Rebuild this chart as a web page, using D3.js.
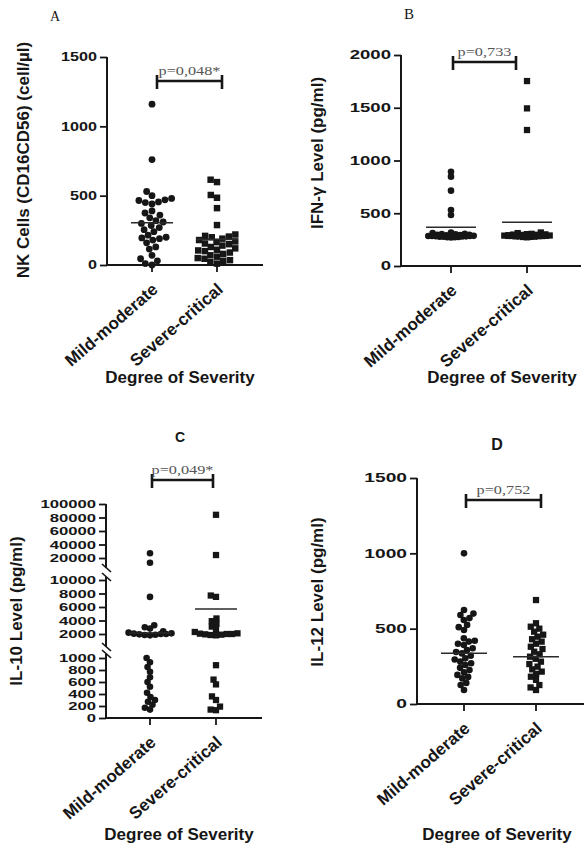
<!DOCTYPE html>
<html>
<head>
<meta charset="utf-8">
<script src="https://cdn.jsdelivr.net/npm/d3@7"></script>
<style>
  body { margin: 0; background: #fff; }
</style>
</head>
<body>
<div id="fig"></div>
<script>
// groups on the x axis of every panel
const groups = ["Mild-moderate", "Severe-critical"];

// A - NK cells (CD16CD56) (cell/µl)
const nkMild = [1160, 760, 530, 500, 480, 470, 465, 455, 450, 440, 390, 375, 360, 340, 320, 310, 300, 285, 270, 255, 240, 215, 200, 195, 190, 180, 160, 130, 115, 70, 45, 30, 10, 0];
const nkSevere = [615, 598, 505, 485, 410, 288, 220, 210, 205, 200, 190, 180, 170, 165, 155, 150, 140, 130, 120, 110, 105, 100, 90, 80, 70, 60, 50, 45, 35, 30, 20, 10];
const nkMeans = [305, 185];
const nkTicks = [0, 500, 1000, 1500];

// B - IFN-γ (pg/ml)
const ifnMild = [894, 847, 714, 531, 483, 318, 312, 306, 302, 300, 298, 296, 295, 293, 292, 290, 289, 288, 286, 285, 285, 284, 283, 281, 280, 278, 277, 275, 273, 272, 270];
const ifnSevere = [1753, 1494, 1289, 318, 312, 305, 302, 300, 298, 296, 295, 293, 292, 290, 289, 288, 286, 285, 285, 284, 283, 281, 280, 278, 276, 275, 272];
const ifnMeans = [367, 414];
const ifnTicks = [0, 500, 1000, 1500, 2000];

// C - IL-10 (pg/ml), broken axis
const il10Mild = [27000, 13000, 7500, 3300, 3000, 2800, 2400, 2200, 2100, 2050, 2000, 2000, 1950, 1900, 1850, 1800, 1000, 930, 850, 770, 680, 600, 520, 420, 350, 300, 270, 220, 170, 140];
const il10Severe = [84000, 24400, 7700, 7500, 4300, 3900, 3500, 3100, 2600, 2300, 2100, 2050, 2000, 2000, 1950, 1900, 1850, 1800, 880, 640, 560, 360, 300, 190, 140, 130];
const il10Means = [2150, 5700];
const il10TicksLow = [0, 200, 400, 600, 800, 1000];
const il10TicksMid = [2000, 4000, 6000, 8000, 10000];
const il10TicksTop = [20000, 40000, 60000, 80000, 100000];

// D - IL-12 (pg/ml)
const il12Mild = [1000, 624, 600, 591, 570, 558, 525, 510, 491, 436, 420, 414, 400, 392, 370, 358, 345, 336, 320, 303, 295, 281, 270, 259, 240, 226, 210, 193, 180, 170, 140, 126, 93];
const il12Severe = [690, 536, 513, 500, 480, 460, 447, 430, 414, 400, 380, 365, 347, 330, 314, 300, 281, 265, 248, 230, 215, 200, 181, 160, 126, 110, 93];
const il12Means = [337, 314];
const il12Ticks = [0, 500, 1000, 1500];

const pValues = ["p=0,048*", "p=0,733", "p=0,049*", "p=0,752"];

const W = 588, H = 847;
const ink = "#161616";
const sans = "'Liberation Sans', Arial, sans-serif";
const serif = "'Liberation Serif', 'Times New Roman', serif";

const svg = d3.select("#fig").append("svg")
    .attr("width", W)
    .attr("height", H);

// simple beeswarm: put each point as close to the centre as it can go
function dodge(ys, r, maxW) {
  const order = d3.range(ys.length).sort((a, b) => d3.descending(ys[a], ys[b]));
  const placed = [], out = [];
  order.forEach((i, k) => {
    const y = ys[i];
    const near = placed.filter(q => Math.abs(q.y - y) < 2 * r);
    const cands = [0];
    near.forEach(q => {
      const dx = Math.sqrt(4 * r * r - (q.y - y) ** 2);
      cands.push(q.x + dx, q.x - dx);
    });
    cands.sort((a, b) => Math.abs(a) - Math.abs(b) || a - b);
    let x = cands.find(c => Math.abs(c) <= maxW &&
      near.every(q => (q.x - c) ** 2 + (q.y - y) ** 2 >= 4 * r * r - 0.01));
    if (x === undefined) x = (k % 2 ? 1 : -1) * maxW * ((k % 5) / 5);
    placed.push({x, y});
    out[i] = x;
  });
  return out;
}

// scales
const yA = d3.scaleLinear().domain([0, 1500]).range([265, 57]);
const yB = d3.scaleLinear().domain([0, 2000]).range([266, 55]);
const il10Low = d3.scaleLinear().domain([0, 1000]).range([718, 658]);
const il10Mid = d3.scaleLinear().domain([2000, 10000]).range([634, 580]);
const il10Top = d3.scaleLinear().domain([20000, 100000]).range([558, 504]);
const yC = v => v <= 1000 ? il10Low(v) : v <= 10000 ? il10Mid(v) : il10Top(v);
const yD = d3.scaleLinear().domain([0, 1500]).range([704, 478]);

const panels = [
  { title: "A", titleFont: serif, titleSize: 14, titleWeight: "normal", tx: 55, ty: 21,
    ax: 107, y0: 265, y: yA, segs: [{scale: yA, ticks: nkTicks, from: 265, to: 57}],
    cats: [152, 217], xEnd: 263, series: [nkMild, nkSevere], means: nkMeans,
    r: 3.4, sp: 3.4, maxW: 25, halfW: 21, br: [157, 222, 81], p: pValues[0],
    ylab: "NK Cells (CD16CD56) (cell/µl)", lx: 29, ly: 160, xlx: 180, xly: 383,
    tickSize: 12, tickSX: 1.35 },
  { title: "B", titleFont: serif, titleSize: 15, titleWeight: "normal", tx: 409, ty: 19,
    ax: 401, y0: 266, y: yB, segs: [{scale: yB, ticks: ifnTicks, from: 266, to: 55}],
    cats: [451, 527], xEnd: 581, series: [ifnMild, ifnSevere], means: ifnMeans,
    r: 3.3, sp: 1.9, maxW: 23, halfW: 25, br: [453, 516, 62], p: pValues[1],
    ylab: "IFN-γ Level (pg/ml)", lx: 323, ly: 153, xlx: 502, xly: 383,
    tickSize: 12, tickSX: 1.55 },
  { title: "C", titleFont: sans, titleSize: 14, titleWeight: "bold", tx: 180, ty: 442,
    ax: 106, y0: 718, y: yC,
    segs: [{scale: il10Low, ticks: il10TicksLow, from: 718, to: 654},
           {scale: il10Mid, ticks: il10TicksMid, from: 647, to: 577},
           {scale: il10Top, ticks: il10TicksTop, from: 568, to: 504}],
    cats: [150, 216], xEnd: 262, series: [il10Mild, il10Severe], means: il10Means,
    r: 3.3, sp: 2.7, maxW: 22, halfW: 21, br: [152, 213, 480], p: pValues[2],
    ylab: "IL-10 Level (pg/ml)", lx: 22, ly: 611, xlx: 179, xly: 840,
    tickSize: 11.5, tickSX: 1.45 },
  { title: "D", titleFont: sans, titleSize: 16, titleWeight: "bold", tx: 497, ty: 450,
    ax: 417, y0: 704, y: yD, segs: [{scale: yD, ticks: il12Ticks, from: 704, to: 478}],
    cats: [464, 536], xEnd: 584, series: [il12Mild, il12Severe], means: il12Means,
    r: 3.3, sp: 3.0, maxW: 24, halfW: 23, br: [466, 541, 500], p: pValues[3],
    ylab: "IL-12 Level (pg/ml)", lx: 323, ly: 592, xlx: 497, xly: 840,
    tickSize: 12, tickSX: 1.6 }
];

panels.forEach(p => {
  const g = svg.append("g");
  const x = d3.scalePoint().domain(groups).range(p.cats);

  // y axis, one piece per segment
  p.segs.forEach((s, i) => {
    const axis = g.append("g")
        .attr("transform", `translate(${p.ax},0)`)
        .call(d3.axisLeft(s.scale)
          .tickValues(s.ticks)
          .tickFormat(d3.format("d"))
          .tickSize(7)
          .tickSizeOuter(0));
    axis.select(".domain").remove();
    axis.selectAll(".tick line").attr("stroke", ink).attr("stroke-width", 1.8);
    axis.selectAll(".tick text")
        .style("fill", ink)
        .style("font-weight", "bold")
        .style("font-size", p.tickSize + "px")
        .style("font-family", sans)
        .attr("transform", `scale(${p.tickSX},1)`)
        .attr("x", -10 / p.tickSX);
    g.append("line")
        .attr("x1", p.ax).attr("x2", p.ax)
        .attr("y1", s.from + (i === 0 ? 1 : 0)).attr("y2", s.to)
        .attr("stroke", ink).attr("stroke-width", 2);
    // break marks
    if (p.segs.length > 1) {
      const ends = [];
      if (i > 0) ends.push(s.from);
      if (i < p.segs.length - 1) ends.push(s.to);
      ends.forEach(e => {
        g.append("line")
            .attr("x1", p.ax - 4).attr("y1", e - 4)
            .attr("x2", p.ax + 5).attr("y2", e + 4)
            .attr("stroke", ink).attr("stroke-width", 1.6);
      });
    }
  });

  // x axis
  g.append("line")
      .attr("x1", p.ax - 1).attr("x2", p.xEnd)
      .attr("y1", p.y0).attr("y2", p.y0)
      .attr("stroke", ink).attr("stroke-width", 2);
  g.selectAll(".xtick")
    .data(groups)
    .join("line")
      .attr("x1", d => x(d)).attr("x2", d => x(d))
      .attr("y1", p.y0).attr("y2", p.y0 + 7)
      .attr("stroke", ink).attr("stroke-width", 1.8);
  g.selectAll(".xlab")
    .data(groups)
    .join("text")
      .attr("transform", d => `translate(${x(d) + 7},${p.y0 + 26}) rotate(-41)`)
      .attr("text-anchor", "end")
      .style("font-family", sans)
      .style("font-size", "17px")
      .style("font-weight", "bold")
      .style("fill", ink)
      .text(d => d);

  // points
  p.series.forEach((vals, si) => {
    const ys = vals.map(v => p.y(v));
    const offs = dodge(ys, p.sp, p.maxW);
    const cx = x(groups[si]);
    if (si === 0) {
      g.append("g").selectAll("circle")
        .data(vals)
        .join("circle")
          .attr("cx", (d, i) => cx + offs[i])
          .attr("cy", (d, i) => ys[i])
          .attr("r", p.r)
          .attr("fill", ink);
    } else {
      const s = p.r * 1.9;
      g.append("g").selectAll("rect")
        .data(vals)
        .join("rect")
          .attr("x", (d, i) => cx + offs[i] - s / 2)
          .attr("y", (d, i) => ys[i] - s / 2)
          .attr("width", s)
          .attr("height", s)
          .attr("fill", ink);
    }
  });

  // mean lines
  g.selectAll(".mean")
    .data(p.means)
    .join("line")
      .attr("x1", (d, i) => x(groups[i]) - p.halfW)
      .attr("x2", (d, i) => x(groups[i]) + p.halfW)
      .attr("y1", d => p.y(d)).attr("y2", d => p.y(d))
      .attr("stroke", "#2a2a2a").attr("stroke-width", 1.6);

  // significance bracket
  const [bx0, bx1, by] = p.br;
  g.append("line").attr("x1", bx0).attr("x2", bx1).attr("y1", by).attr("y2", by)
      .attr("stroke", ink).attr("stroke-width", 2.4);
  [bx0, bx1].forEach(bx => {
    g.append("line").attr("x1", bx).attr("x2", bx).attr("y1", by - 6).attr("y2", by + 8)
        .attr("stroke", ink).attr("stroke-width", 2.6);
  });
  g.append("text")
      .attr("transform", `translate(${(bx0 + bx1) / 2},${by - 6}) scale(1.3,1)`)
      .attr("text-anchor", "middle")
      .style("font-family", serif)
      .style("font-size", "12.5px")
      .style("fill", "#555")
      .text(p.p);

  // titles and labels
  g.append("text")
      .attr("x", p.tx).attr("y", p.ty)
      .attr("text-anchor", "middle")
      .style("font-family", p.titleFont)
      .style("font-size", p.titleSize + "px")
      .style("font-weight", p.titleWeight)
      .style("fill", ink)
      .text(p.title);
  g.append("text")
      .attr("transform", `translate(${p.lx},${p.ly}) rotate(-90)`)
      .attr("text-anchor", "middle")
      .style("font-family", sans)
      .style("font-size", "17px")
      .style("font-weight", "bold")
      .style("fill", ink)
      .text(p.ylab);
  g.append("text")
      .attr("x", p.xlx).attr("y", p.xly)
      .attr("text-anchor", "middle")
      .style("font-family", sans)
      .style("font-size", "17px")
      .style("font-weight", "bold")
      .style("fill", ink)
      .text("Degree of Severity");
});
</script>
</body>
</html>
